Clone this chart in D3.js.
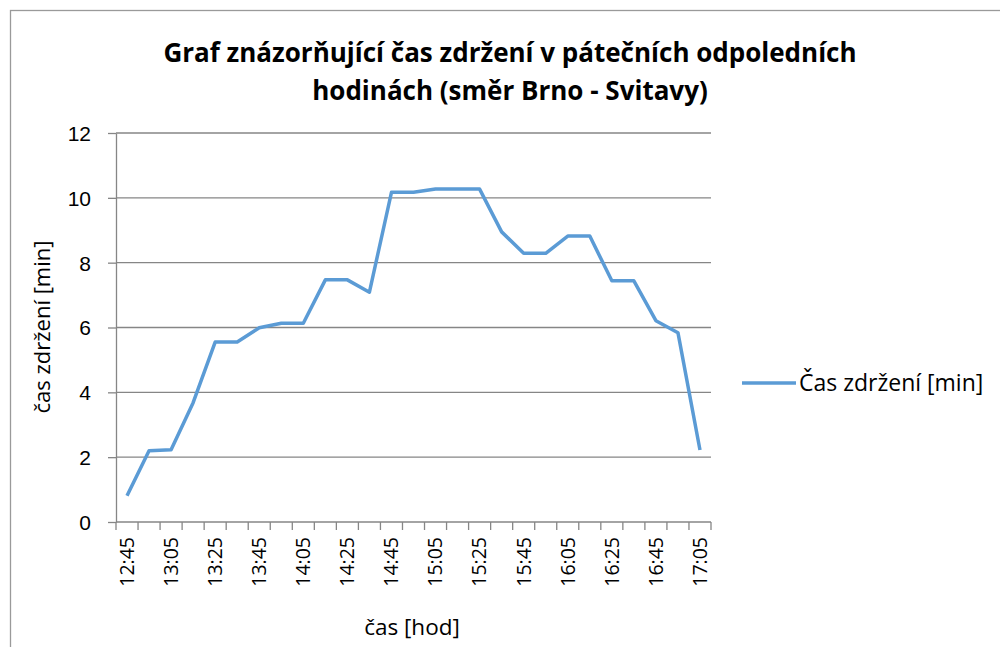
<!doctype html>
<html>
<head>
<meta charset="utf-8">
<title>Čas zdržení</title>
<style type="text/css">
  body { margin: 0; background: #fff; }
  svg { font-family: "Open Sans", sans-serif; }
  .grid line { stroke: #868686; stroke-width: 1.3; }
  .axis path, .axis line { stroke: #868686; stroke-width: 1.3; fill: none; }
  .axis text { fill: #000; }
</style>
</head>
<body>
<div id="chart"></div>
<script src="https://d3js.org/d3.v7.min.js"></script>
<script>
const times = ["12:45","12:55","13:05","13:15","13:25","13:35","13:45","13:55","14:05","14:15","14:25","14:35","14:45","14:55","15:05","15:15","15:25","15:35","15:45","15:55","16:05","16:15","16:25","16:35","16:45","16:55","17:05"];
const delays = [0.81,2.2,2.23,3.68,5.55,5.55,5.99,6.13,6.13,7.47,7.47,7.09,10.17,10.17,10.27,10.27,10.27,8.95,8.29,8.29,8.82,8.82,7.44,7.44,6.21,5.84,2.22];
const yTicks = [0,2,4,6,8,10,12];
const seriesName = "Čas zdržení [min]";

const W = 1000, H = 647;
const plot = {left: 116, right: 711, top: 133, bottom: 522};

const svg = d3.select("#chart").append("svg")
  .attr("width", W).attr("height", H);

// chart frame
svg.append("rect")
  .attr("x", 10.5).attr("y", 10.5)
  .attr("width", 1000).attr("height", 700)
  .attr("fill", "none").attr("stroke", "#9a9a9a").attr("stroke-width", 1.3);

const x = d3.scaleBand().domain(times).range([plot.left, plot.right]);
const y = d3.scaleLinear().domain([0, 12]).range([plot.bottom, plot.top]);

// horizontal gridlines
svg.append("g").attr("class", "grid")
  .selectAll("line").data(yTicks.filter(d => d > 0)).enter().append("line")
  .attr("x1", plot.left).attr("x2", plot.right)
  .attr("y1", d => y(d)).attr("y2", d => y(d));

// y axis
const yAxis = svg.append("g").attr("class", "axis")
  .attr("transform", "translate(" + plot.left + ",0)")
  .call(d3.axisLeft(y).tickValues(yTicks).tickSize(8).tickSizeOuter(0).tickPadding(17));
yAxis.selectAll("text").style("font-size", "21px").attr("dy", "0.35em");

// x axis: ticks at category boundaries
const xAxis = svg.append("g").attr("class", "axis")
  .attr("transform", "translate(0," + plot.bottom + ")");
xAxis.append("line")
  .attr("x1", plot.left).attr("x2", plot.right);
const bounds = times.map(t => x(t)).concat([plot.right]);
xAxis.selectAll("line.tk").data(bounds).enter().append("line")
  .attr("class", "tk")
  .attr("x1", d => d).attr("x2", d => d)
  .attr("y1", 0).attr("y2", 8);
xAxis.selectAll("text").data(times.filter((t, i) => i % 2 === 0)).enter().append("text")
  .attr("transform", d => "translate(" + (x(d) + x.bandwidth() / 2) + ",15) rotate(-90)")
  .attr("text-anchor", "end")
  .attr("dy", "0.35em")
  .style("font-size", "19.5px")
  .text(d => d);

// line
const line = d3.line()
  .x((d, i) => x(times[i]) + x.bandwidth() / 2)
  .y(d => y(d));
svg.append("path")
  .datum(delays)
  .attr("d", line)
  .attr("fill", "none")
  .attr("stroke", "#5B9BD5")
  .attr("stroke-width", 3.5)
  .attr("stroke-linejoin", "round");

// title
const title = svg.append("text")
  .attr("text-anchor", "middle")
  .style("font-size", "26px").style("font-weight", "bold");
title.append("tspan").attr("x", 510).attr("y", 62).text("Graf znázorňující čas zdržení v pátečních odpoledních");
title.append("tspan").attr("x", 510).attr("y", 100).text("hodinách (směr Brno - Svitavy)");

// axis titles
svg.append("text")
  .attr("transform", "translate(50,327) rotate(-90)")
  .attr("text-anchor", "middle")
  .style("font-size", "22px")
  .text("čas zdržení [min]");
svg.append("text")
  .attr("x", 412).attr("y", 635)
  .attr("text-anchor", "middle")
  .style("font-size", "22.5px")
  .text("čas [hod]");

// legend
svg.append("line")
  .attr("x1", 742).attr("x2", 796).attr("y1", 383).attr("y2", 383)
  .attr("stroke", "#5B9BD5").attr("stroke-width", 3.5);
svg.append("text")
  .attr("x", 799).attr("y", 383).attr("dy", "0.35em")
  .style("font-size", "23px")
  .text(seriesName);
</script>
</body>
</html>
